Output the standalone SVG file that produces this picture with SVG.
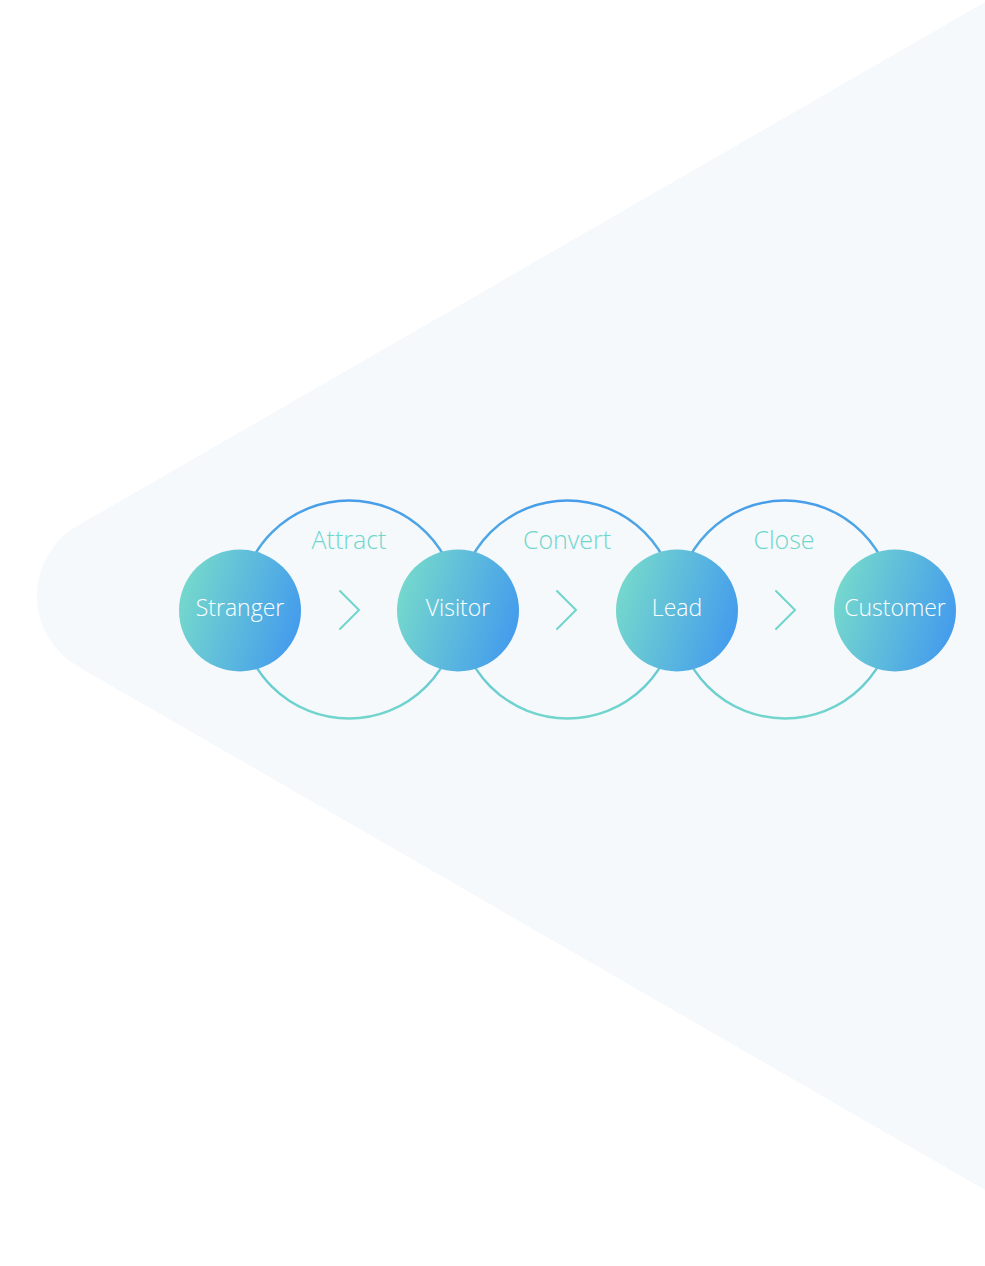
<svg xmlns="http://www.w3.org/2000/svg" width="985" height="1266" viewBox="0 0 985 1266">
  <defs>
    <linearGradient id="ringGrad" x1="0" y1="0" x2="0" y2="1">
      <stop offset="0" stop-color="#479de9"/>
      <stop offset="1" stop-color="#72d6cc"/>
    </linearGradient>
    <linearGradient id="nodeGrad" x1="0" y1="0.35" x2="1" y2="0.65">
      <stop offset="0" stop-color="#76d9cc"/>
      <stop offset="1" stop-color="#439bed"/>
    </linearGradient>
    <style>
      .ring { fill: none; stroke: url(#ringGrad); stroke-width: 2.5; }
      .chev { fill: none; stroke: #70d5cb; stroke-width: 2; stroke-linecap: round; stroke-linejoin: miter; }
      .lbl { font-family: "Open Sans", "Liberation Sans", sans-serif; font-weight: 300; font-size: 25px; fill: #6fd6cb; text-anchor: middle; }
      .node { fill: url(#nodeGrad); }
      .ntxt { font-family: "Open Sans", "Liberation Sans", sans-serif; font-weight: 300; font-size: 23px; fill: #ffffff; text-anchor: middle; }
    </style>
  </defs>
  <rect width="985" height="1266" fill="#ffffff"/>
  <path d="M 985 2 L 77.5 525.8 A 81 81 0 0 0 77.5 666.2 L 985 1190 Z" fill="#f5f9fc"/>

  <g id="connectors">
    <circle class="ring" cx="349" cy="609.5" r="109"/>
    <circle class="ring" cx="567.5" cy="609.5" r="109"/>
    <circle class="ring" cx="785" cy="609.5" r="109"/>
    <polyline class="chev" points="340,591 359,610 340,629"/>
    <polyline class="chev" points="557,591 576,610 557,629"/>
    <polyline class="chev" points="776,591 795,610 776,629"/>
    <text class="lbl" x="349" y="549">Attract</text>
    <text class="lbl" x="567" y="549">Convert</text>
    <text class="lbl" x="784" y="549">Close</text>
  </g>

  <g id="node-stranger">
    <circle class="node" cx="240" cy="610.5" r="61"/>
    <text class="ntxt" x="240" y="616">Stranger</text>
  </g>
  <g id="node-visitor">
    <circle class="node" cx="458" cy="610.5" r="61"/>
    <text class="ntxt" x="458" y="616">Visitor</text>
  </g>
  <g id="node-lead">
    <circle class="node" cx="677" cy="610.5" r="61"/>
    <text class="ntxt" x="677" y="616">Lead</text>
  </g>
  <g id="node-customer">
    <circle class="node" cx="895" cy="610.5" r="61"/>
    <text class="ntxt" x="895" y="616">Customer</text>
  </g>
</svg>
